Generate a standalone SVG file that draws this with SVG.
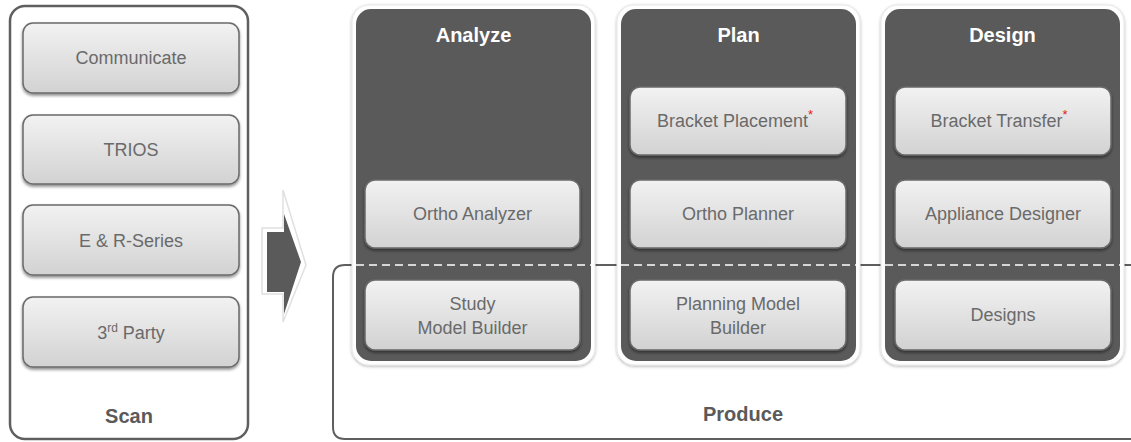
<svg xmlns="http://www.w3.org/2000/svg" width="1131" height="442" viewBox="0 0 1131 442">
<defs>
<linearGradient id="boxg" x1="0" y1="0" x2="0" y2="1">
<stop offset="0" stop-color="#f2f2f2"/>
<stop offset="1" stop-color="#d2d2d2"/>
</linearGradient>
<filter id="sh" x="-10%" y="-10%" width="120%" height="130%">
<feDropShadow dx="0" dy="2" stdDeviation="1.5" flood-color="#000" flood-opacity="0.45"/>
</filter>
<filter id="psh" x="-5%" y="-5%" width="110%" height="110%">
<feDropShadow dx="0" dy="1" stdDeviation="1.5" flood-color="#000" flood-opacity="0.3"/>
</filter>
<style>
.box{fill:url(#boxg);stroke:#6a6a6a;stroke-width:1.5;filter:url(#sh)}
.t{font-family:"Liberation Sans",Arial,sans-serif;font-size:18px;fill:#6a6a6a;text-anchor:middle}
.h{font-family:"Liberation Sans",Arial,sans-serif;font-size:20px;font-weight:bold;fill:#ffffff;text-anchor:middle}
.lbl{font-family:"Liberation Sans",Arial,sans-serif;font-size:20px;font-weight:bold;fill:#5a5a5a;text-anchor:middle}
.outer{fill:#ffffff;stroke:#5f5f5f;stroke-width:2.5}
.pout{fill:#ffffff;stroke:#e6e6e6;stroke-width:1;filter:url(#psh)}
.pin{fill:#5a5a5a}
.dash{stroke:#ffffff;stroke-width:1.5;stroke-dasharray:8 5;fill:none}
.ast{fill:#e02020;font-size:13px}
</style>
</defs>

<!-- Produce container -->
<g id="produce">
<path d="M1135,265 L345,265 Q333,265 333,277 L333,427 Q333,439 345,439 L1135,439" fill="#ffffff" stroke="#5f5f5f" stroke-width="2"/>
<text class="lbl" x="743" y="421">Produce</text>
</g>

<!-- Scan container -->
<g id="scan">
<rect class="outer" x="10" y="6" width="238" height="433" rx="15"/>
<text class="lbl" x="129" y="423">Scan</text>
</g>
<g id="communicate"><rect class="box" x="23" y="23" width="216" height="70" rx="10"/><text class="t" x="131" y="64">Communicate</text></g>
<g id="trios"><rect class="box" x="23" y="115" width="216" height="69" rx="10"/><text class="t" x="131" y="156">TRIOS</text></g>
<g id="er-series"><rect class="box" x="23" y="205" width="216" height="70" rx="10"/><text class="t" x="131" y="247">E &amp; R-Series</text></g>
<g id="third-party"><rect class="box" x="23" y="297" width="216" height="70" rx="10"/><text class="t" x="131" y="339">3<tspan font-size="12" dy="-7">rd</tspan><tspan dy="7"> Party</tspan></text></g>

<!-- Big arrow -->
<g id="arrow">
<polygon points="262,228 283,228 283,190 306,265 283,322 283,294 262,294" fill="#ffffff" stroke="#e0e0e0" stroke-width="1.5"/>
<polygon points="267,232 284,232 284,214 301,262 284,314 284,292 267,292" fill="#5a5a5a"/>
</g>

<!-- Panels -->
<g id="analyze">
<rect class="pout" x="352" y="5" width="243" height="360" rx="17"/>
<rect class="pin" x="356" y="9" width="235" height="352" rx="15"/>
<text class="h" x="473.5" y="42">Analyze</text>
</g>
<g id="plan">
<rect class="pout" x="617" y="5" width="243" height="360" rx="17"/>
<rect class="pin" x="621" y="9" width="235" height="352" rx="15"/>
<text class="h" x="738.5" y="42">Plan</text>
</g>
<g id="design">
<rect class="pout" x="881" y="5" width="243" height="360" rx="17"/>
<rect class="pin" x="885" y="9" width="235" height="352" rx="15"/>
<text class="h" x="1002.5" y="42">Design</text>
</g>

<!-- connectors: dashed boundary across panels -->
<g id="connectors">
<line class="dash" x1="356" y1="265" x2="591" y2="265"/>
<line class="dash" x1="621" y1="265" x2="856" y2="265"/>
<line class="dash" x1="885" y1="265" x2="1120" y2="265"/>
</g>

<g id="ortho-analyzer"><rect class="box" x="365" y="180" width="215" height="68" rx="10"/><text class="t" x="472.5" y="220">Ortho Analyzer</text></g>
<g id="study-model-builder"><rect class="box" x="365" y="280" width="215" height="70" rx="10"/><text class="t" x="472.5" y="310">Study</text><text class="t" x="472.5" y="334">Model Builder</text></g>

<g id="bracket-placement"><rect class="box" x="630" y="87" width="216" height="68" rx="10"/><text class="t" x="735" y="127">Bracket Placement<tspan class="ast" dy="-8">*</tspan></text></g>
<g id="ortho-planner"><rect class="box" x="630" y="180" width="216" height="68" rx="10"/><text class="t" x="738" y="220">Ortho Planner</text></g>
<g id="planning-model-builder"><rect class="box" x="630" y="280" width="216" height="70" rx="10"/><text class="t" x="738" y="310">Planning Model</text><text class="t" x="738" y="334">Builder</text></g>

<g id="bracket-transfer"><rect class="box" x="895" y="87" width="216" height="68" rx="10"/><text class="t" x="999" y="127">Bracket Transfer<tspan class="ast" dy="-8">*</tspan></text></g>
<g id="appliance-designer"><rect class="box" x="895" y="180" width="216" height="68" rx="10"/><text class="t" x="1003" y="220">Appliance Designer</text></g>
<g id="designs"><rect class="box" x="895" y="280" width="216" height="70" rx="10"/><text class="t" x="1003" y="321">Designs</text></g>
</svg>
